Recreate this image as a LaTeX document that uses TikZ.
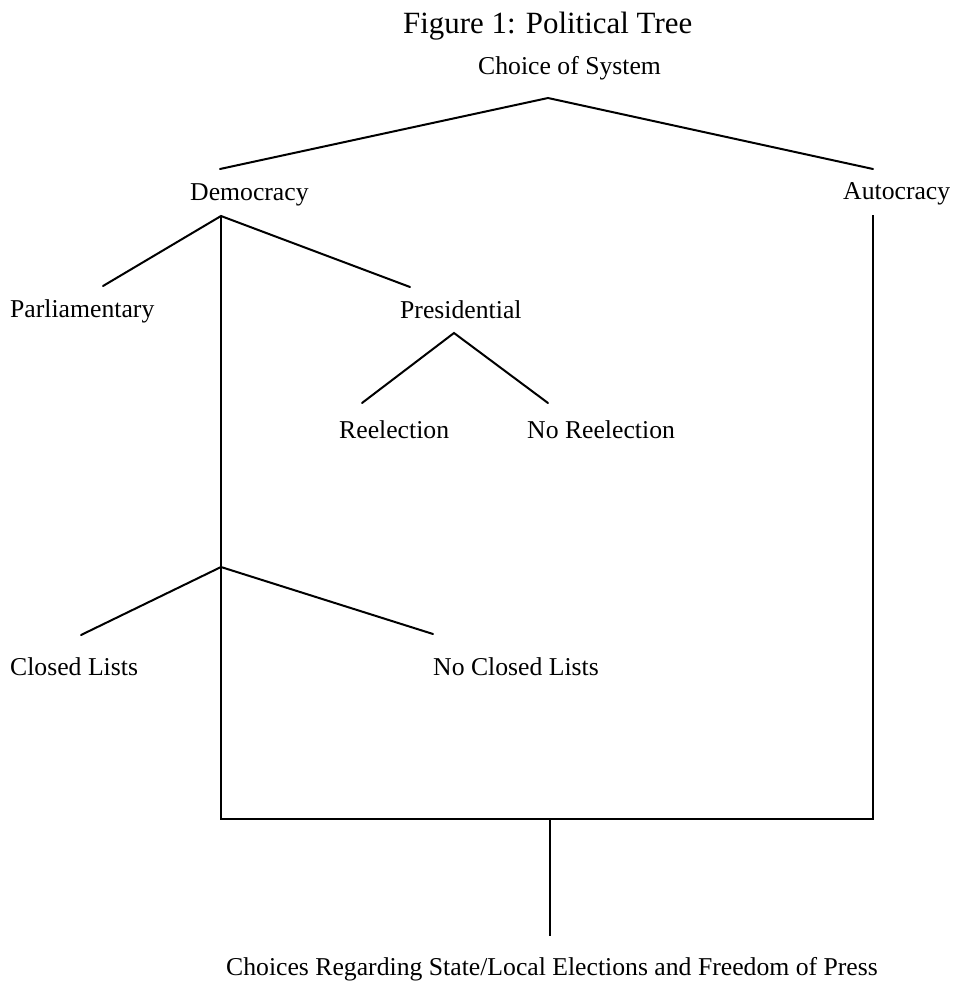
\documentclass[tikz,border=0pt]{standalone}
\usepackage{fontspec}
\setmainfont{Liberation Serif}
\begin{document}
\begin{tikzpicture}[x=1pt,y=-1pt,
  lbl/.style={inner sep=0pt,anchor=base west,font=\fontsize{25.7}{30}\selectfont},
  ttl/.style={inner sep=0pt,anchor=base west,font=\fontsize{30.9}{36}\selectfont},
  branch/.style={line width=2pt,line cap=round},
  stem/.style={line width=1.7pt}]
\useasboundingbox (0,0) rectangle (954,1002);
% texts
\node[ttl] (title) at (403,33) {Figure 1: Political Tree};
\node[lbl] (choice) at (478,74) {Choice of System};
\node[lbl] (dem) at (190,200) {Democracy};
\node[lbl] (aut) at (843,199) {Autocracy};
\node[lbl] (parl) at (10,317) {Parliamentary};
\node[lbl] (pres) at (400,318) {Presidential};
\node[lbl] (reel) at (339,438) {Reelection};
\node[lbl] (noreel) at (527,438) {No Reelection};
\node[lbl] (cl) at (10,675) {Closed Lists};
\node[lbl] (ncl) at (433,675) {No Closed Lists};
\node[lbl,anchor=base] (press) at (552,975) {Choices Regarding State/Local Elections and Freedom of Press};
% coordinates
\coordinate (a0) at (548,98);
\coordinate (a0l) at (220,169);
\coordinate (a0r) at (873,169);
\coordinate (dtop) at (221,216);
\coordinate (dparl) at (103,286);
\coordinate (dpres) at (410,287);
\coordinate (ptop) at (454,333);
\coordinate (preel) at (362,403);
\coordinate (pnoreel) at (548,403);
\coordinate (ltop) at (221,567);
\coordinate (lcl) at (81,635);
\coordinate (lncl) at (433,634);
\coordinate (atop) at (873,215);
\coordinate (barl) at (221,819);
\coordinate (barr) at (873,819);
\coordinate (barm) at (550,819);
\coordinate (bend) at (550,936);
% connectors
\draw[branch] (a0l) -- (a0) -- (a0r);
\draw[branch] (dparl) -- (dtop) -- (dpres);
\draw[branch] (preel) -- (ptop) -- (pnoreel);
\draw[branch] (lcl) -- (ltop) -- (lncl);
\draw[stem] (dtop) -- (barl) -- (barr) -- (atop);
\draw[stem] (barm) -- (bend);
\end{tikzpicture}
\end{document}
